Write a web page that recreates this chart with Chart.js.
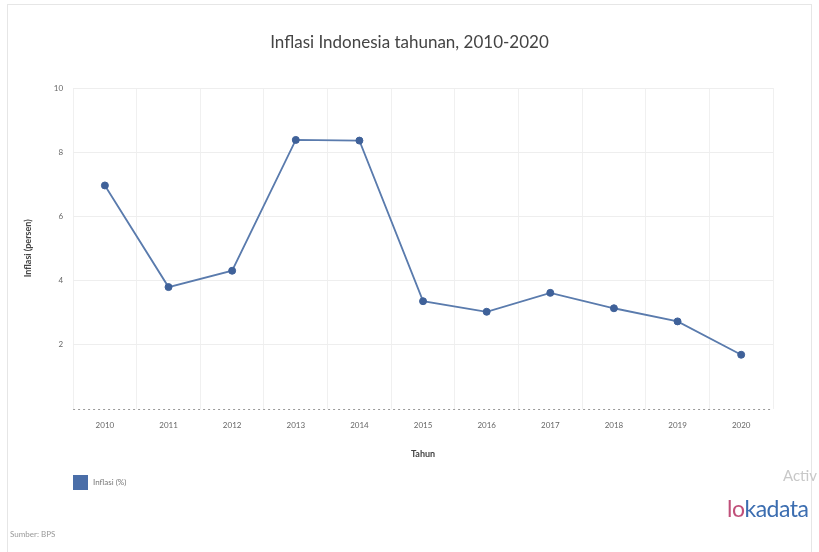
<!DOCTYPE html>
<html>
<head>
<meta charset="utf-8">
<script src="https://cdn.jsdelivr.net/npm/chart.js@4"></script>
<style>
  html, body { margin: 0; padding: 0; background: #fff; }
  #wrap { position: relative; width: 819px; height: 552px; font-family: Lato, sans-serif; }
  #frame { position: absolute; left: 7px; top: 4px; width: 803px; height: 560px; border: 1px solid #e6e6e6; }
  #judul { position: absolute; left: 0; top: 31px; width: 819px; text-align: center; font-size: 17px; color: #444; }
  #legend { position: absolute; left: 73px; top: 475px; font-size: 8px; color: #777; }
  #legend span.box { display: inline-block; width: 15px; height: 15px; background: #4a6ea8; vertical-align: middle; margin-right: 5px; }
  #sumber { position: absolute; left: 10px; top: 529px; font-size: 8px; color: #999; }
  #logo { position: absolute; left: 727px; top: 494px; font-size: 23px; color: #3b6db0; letter-spacing: -0.5px; }
  #logo b { font-weight: normal; color: #c0507a; }
  #activ { position: absolute; left: 783px; top: 466px; font-size: 15px; color: #c8c8c8; }
</style>
</head>
<body>
<div id="wrap">
  <div id="frame"></div>
  <canvas id="inflasiChart" width="819" height="552"></canvas>
  <div id="judul">Inflasi Indonesia tahunan, 2010-2020</div>
  <div id="legend"><span class="box"></span><span id="legendText"></span></div>
  <div id="sumber">Sumber: BPS</div>
  <div id="activ">Activ</div>
  <div id="logo"><b>lo</b>kadata</div>
</div>
<script>
  // Data inflasi tahunan (persen)
  const tahun = ["2010", "2011", "2012", "2013", "2014", "2015", "2016", "2017", "2018", "2019", "2020"];
  const inflasi = [6.96, 3.79, 4.30, 8.38, 8.36, 3.35, 3.02, 3.61, 3.13, 2.72, 1.68];
  const yTicks = [2, 4, 6, 8, 10];
  const seriesLabel = "Inflasi (%)";

  document.getElementById("legendText").textContent = seriesLabel;

  // garis dasar putus-putus pada nilai 0
  const dottedBase = {
    id: "dottedBase",
    afterDraw(chart) {
      const { ctx, chartArea, scales } = chart;
      const y = Math.round(scales.y.getPixelForValue(0)) + 0.5;
      ctx.save();
      ctx.strokeStyle = "#999999";
      ctx.lineWidth = 1;
      ctx.setLineDash([2, 3]);
      ctx.beginPath();
      ctx.moveTo(chartArea.left, y);
      ctx.lineTo(chartArea.right, y);
      ctx.stroke();
      ctx.restore();
    },
  };

  const ctx = document.getElementById("inflasiChart").getContext("2d");
  const inflasiChart = new Chart(ctx, {
    type: "line",
    data: {
      labels: tahun,
      datasets: [
        {
          label: seriesLabel,
          data: inflasi,
          borderColor: "#5a7bad",
          backgroundColor: "#4a6ea8",
          pointBackgroundColor: "#3f6199",
          pointBorderColor: "#3f6199",
          pointRadius: 3.5,
          pointBorderWidth: 1,
          borderWidth: 1.8,
          tension: 0,
        },
      ],
    },
    options: {
      responsive: false,
      animation: false,
      layout: { padding: { left: 19, right: 46, top: 88, bottom: 89 } },
      plugins: {
        title: { display: false },
        legend: { display: false },
        tooltip: { enabled: false },
      },
      scales: {
        x: {
          offset: true,
          grid: { offset: true, color: "#f0f0f0", drawTicks: false },
          border: { display: false },
          ticks: { color: "#666", font: { family: "Lato", size: 8 }, padding: 12 },
          title: {
            display: true,
            text: "Tahun",
            color: "#444",
            font: { family: "Lato", size: 9, weight: "bold" },
            padding: { top: 6 },
          },
        },
        y: {
          min: 0,
          max: 10,
          afterBuildTicks: (axis) => {
            axis.ticks = [0].concat(yTicks).map((v) => ({ value: v }));
          },
          grid: {
            color: (c) => (c.tick && c.tick.value === 0 ? "rgba(0,0,0,0)" : "#eeeeee"),
            drawTicks: false,
          },
          border: { display: false },
          ticks: {
            color: "#666",
            font: { family: "Lato", size: 8 },
            padding: 10,
            callback: (v) => (yTicks.includes(v) ? v : ""),
          },
          title: {
            display: true,
            text: "Inflasi (persen)",
            color: "#444",
            font: { family: "Lato", size: 9, weight: "bold" },
            padding: { bottom: 10 },
          },
        },
      },
    },
    plugins: [dottedBase],
  });
</script>
</body>
</html>
